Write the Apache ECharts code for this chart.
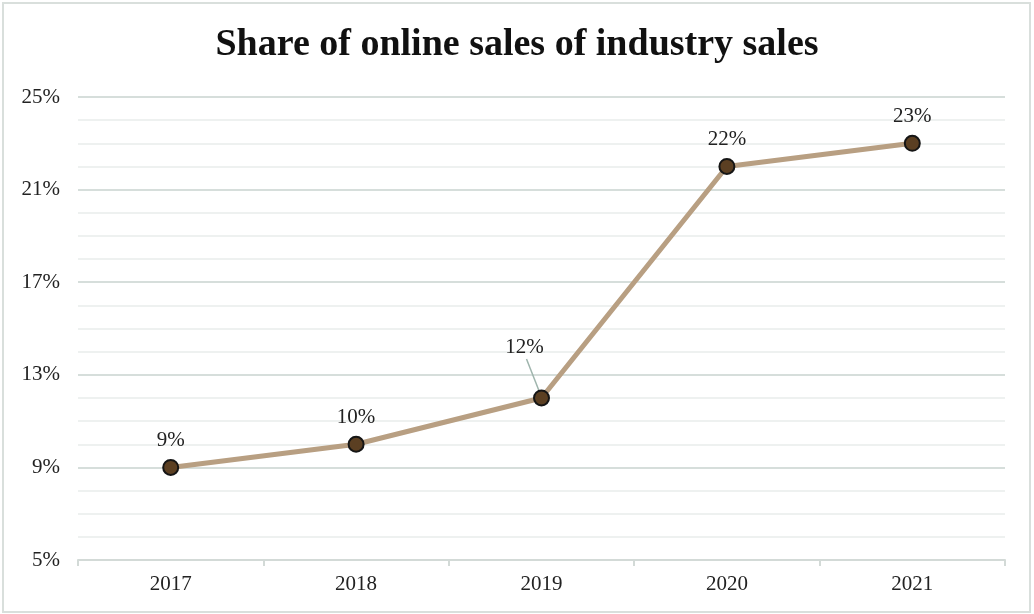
<!DOCTYPE html>
<html>
<head>
<meta charset="utf-8">
<script src="https://cdn.jsdelivr.net/npm/echarts@6/dist/echarts.min.js"></script>
<style>
html, body { margin: 0; padding: 0; background: #fff; }
#chart { width: 1034px; height: 614px; }
</style>
</head>
<body>
<div id="chart"></div>
<script>
var years = ['2017', '2018', '2019', '2020', '2021']
var share = [9, 10, 12, 22, 23]

var chart = echarts.init(document.getElementById('chart'))

// 2019 label sits up-left of its point, with a leader line
var leaderAt = years.indexOf('2019')
var points = share.map(function (v, i) {
  if (i === leaderAt) {
    return { value: v, label: { offset: [-17, -23] } }
  }
  return v
})

var option = {
  animation: false,
  textStyle: { fontFamily: 'Liberation Serif' },
  title: {
    text: 'Share of online sales of industry sales',
    left: 'center',
    top: 21,
    textStyle: { fontFamily: 'Liberation Serif', fontWeight: 'bold', fontSize: 38, color: '#111' }
  },
  graphic: [{
    type: 'rect',
    shape: { x: 3, y: 3, width: 1027, height: 609 },
    style: { fill: 'none', stroke: '#d9dfdc', lineWidth: 2 },
    silent: true
  }],
  grid: { left: 78, right: 29, top: 97, bottom: 54 },
  xAxis: {
    type: 'category',
    data: years,
    boundaryGap: true,
    axisLine: { lineStyle: { color: '#d3dad7', width: 2 } },
    axisTick: { show: true, length: 6, lineStyle: { color: '#d3dad7', width: 2 } },
    axisLabel: { fontSize: 21, color: '#222', margin: 14, fontFamily: 'Liberation Serif' }
  },
  yAxis: {
    type: 'value',
    min: 5,
    max: 25,
    interval: 4,
    axisLine: { show: false },
    axisTick: { show: false },
    axisLabel: { formatter: '{value}%', fontSize: 21, color: '#222', margin: 18, fontFamily: 'Liberation Serif' },
    splitLine: { lineStyle: { color: '#d6dedb', width: 2 } },
    minorTick: { show: false, splitNumber: 4 },
    minorSplitLine: { show: true, lineStyle: { color: '#eef1f0', width: 2 } }
  },
  series: [{
    // leader line for the 2019 label
    type: 'custom',
    data: [[leaderAt, share[leaderAt]]],
    renderItem: function (params, api) {
      var p = api.coord([api.value(0), api.value(1)])
      return {
        type: 'line',
        shape: { x1: p[0] - 15, y1: p[1] - 39, x2: p[0] - 2, y2: p[1] - 6 },
        style: { stroke: '#9fb5ad', lineWidth: 1.5 }
      }
    },
    silent: true,
    z: 1
  }, {
    type: 'line',
    data: points,
    symbol: 'circle',
    symbolSize: 15,
    lineStyle: { color: '#b89f82', width: 5 },
    itemStyle: { color: '#5b3f22', borderColor: '#151515', borderWidth: 2 },
    label: {
      show: true,
      position: 'top',
      distance: 8,
      formatter: '{c}%',
      fontSize: 21,
      color: '#222',
      fontFamily: 'Liberation Serif'
    },
    z: 3
  }]
}

chart.setOption(option)
</script>
</body>
</html>
